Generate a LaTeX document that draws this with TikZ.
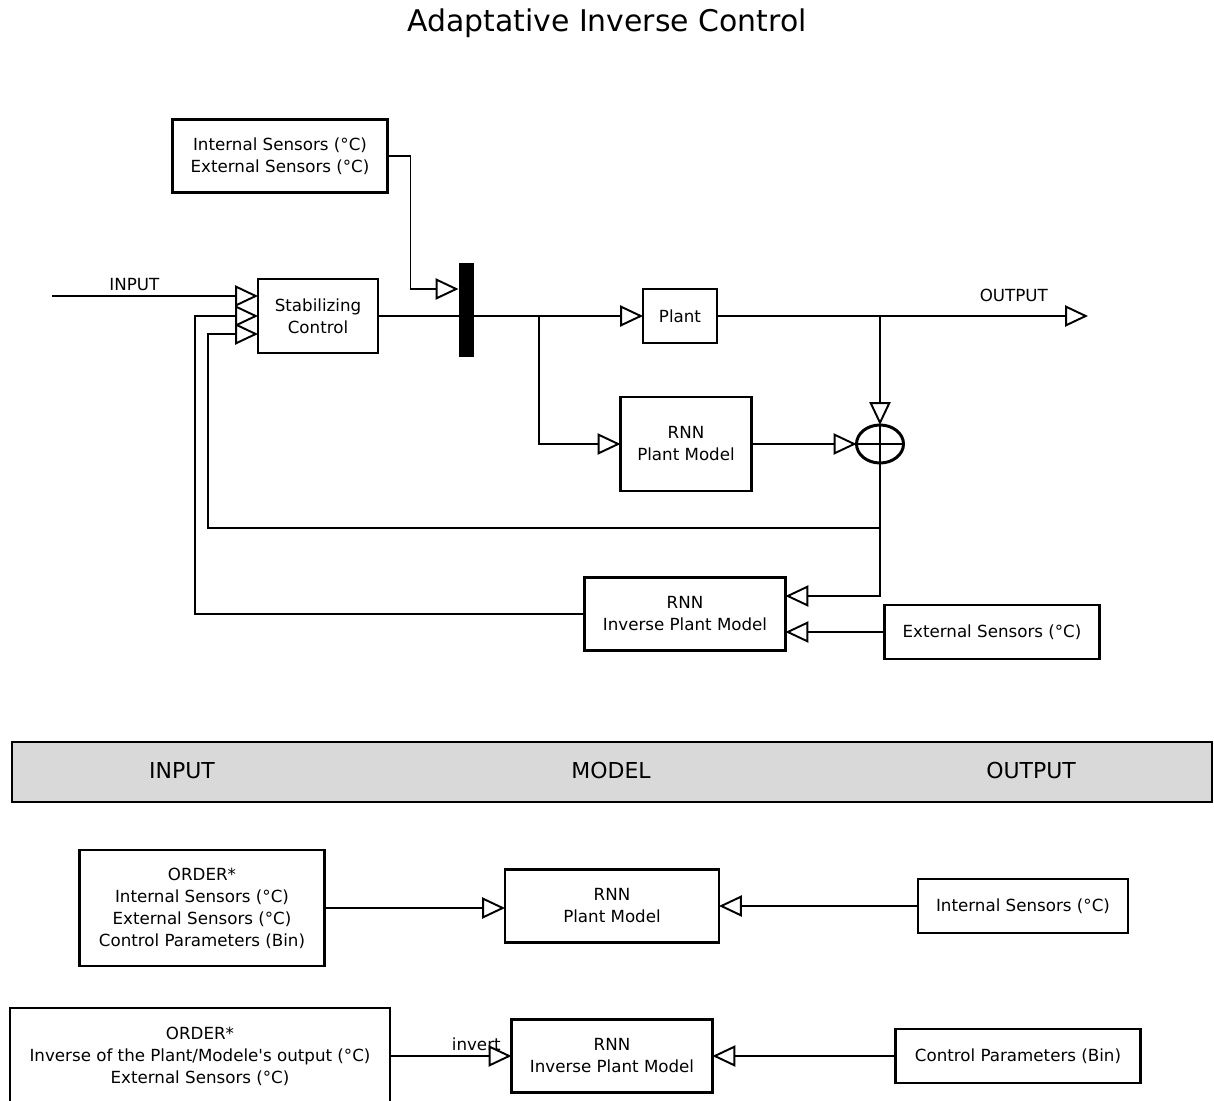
\documentclass[tikz,border=0pt]{standalone}
\usepackage{fontspec}
\setmainfont{DejaVu Sans}
\usetikzlibrary{arrows.meta, calc, shapes.geometric}
\tikzset{
    x=0.02cm, y=-0.02cm, % one unit per pixel, y axis pointing down
    every node/.style={font=\fontsize{9.5}{12.5}\selectfont, align=center},
    block/.style={draw, line width=1.6pt, fill=white, inner sep=2pt, outer sep=0pt}, % all boxes
    sumnode/.style={draw, ellipse, line width=1.7pt, minimum width=0.94cm, minimum height=0.76cm, inner sep=0pt, outer sep=0pt},
    mixbar/.style={fill=black, minimum width=0.3cm, minimum height=1.88cm, inner sep=0pt, outer sep=0pt},
    header/.style={draw, line width=1.6pt, fill=black!15},
}
\tikzstyle{conn} = [line width=1.1pt]
\tikzstyle{arrow} = [line width=1.1pt, -{Triangle[open, length=13pt, width=12pt]}]

\begin{document}
\begin{tikzpicture}
    \useasboundingbox (0,0) rectangle (1214,1101);

    \node[font=\fontsize{17}{20}\selectfont] (title) at (607,23) {Adaptative Inverse Control};

    % control loop
    \node[block, minimum width=4.3cm, minimum height=1.46cm] (sens) at (280,156) {Internal Sensors (°C)\\External Sensors (°C)};
    \node[block, minimum width=2.4cm, minimum height=1.48cm] (stab) at (318,316) {Stabilizing\\Control};
    \node[mixbar] (mix) at (466,310) {};
    \node[block, minimum width=1.48cm, minimum height=1.08cm] (plant) at (680,316) {Plant};
    \node[block, minimum width=2.62cm, minimum height=1.88cm] (rnn) at (686,444) {RNN\\Plant Model};
    \node[sumnode] (sum) at (880,444) {};
    \draw[line width=1.6pt] (sum.north) -- (sum.south) (sum.west) -- (sum.east);
    \node[block, minimum width=4.02cm, minimum height=1.46cm] (inv) at (685,614) {RNN\\Inverse Plant Model};
    \node[block, minimum width=4.3cm, minimum height=1.08cm] (ext) at (992,632) {External Sensors (°C)};

    \coordinate (in) at (52,296);
    \coordinate (out) at (1088,316);
    \coordinate (fb1) at (195,316);
    \coordinate (fb2) at (208,334);

    \draw[arrow] (in) -- (in -| stab.west) node[pos=0.4, above=-1pt] (inlabel) {INPUT};
    \draw[arrow] (sens.east) -- ++(23,0) |- ($(mix.west)+(0,-21)$);
    \draw[conn] (stab.east) -- (stab.east -| mix.west);
    \draw[arrow] (stab.east -| mix.east) -- (plant.west);
    \draw[arrow] (539,316) |- (rnn.west);
    \draw[arrow] (plant.east) -- (out) node[pos=0.8, above=4pt] (outlabel) {OUTPUT};
    \draw[arrow] (880,316) -- (sum.north);
    \draw[arrow] (rnn.east) -- (sum.west);
    \draw[arrow] (sum.south) |- ($(inv.east)+(0,-18)$);
    \draw[arrow] (sum.south |- 0,528) -| (fb2) -- (fb2 -| stab.west);
    \draw[arrow] (inv.west) -| (fb1) -- (fb1 -| stab.west);
    \draw[arrow] (ext.west) -- (ext.west -| inv.east);

    % training table
    \draw[header] (12,742) rectangle (1212,802);
    \node[font=\fontsize{12.5}{15}\selectfont] (hin) at (182,771) {INPUT};
    \node[font=\fontsize{12.5}{15}\selectfont] (hmodel) at (611,771) {MODEL};
    \node[font=\fontsize{12.5}{15}\selectfont] (hout) at (1031,771) {OUTPUT};

    \node[block, minimum width=4.9cm, minimum height=2.32cm] (ord1) at (202,908) {ORDER*\\Internal Sensors (°C)\\External Sensors (°C)\\Control Parameters (Bin)};
    \node[block, minimum width=4.28cm, minimum height=1.46cm] (model1) at (612,906) {RNN\\Plant Model};
    \node[block, minimum width=4.2cm, minimum height=1.08cm] (target1) at (1023,906) {Internal Sensors (°C)};
    \draw[arrow] (ord1.east) -- (ord1.east -| model1.west);
    \draw[arrow] (target1.west) -- (model1.east);

    \node[block, minimum width=7.6cm, minimum height=1.92cm] (ord2) at (200,1056) {ORDER*\\Inverse of the Plant/Modele\textquotesingle s output (°C)\\External Sensors (°C)};
    \node[block, minimum width=4.02cm, minimum height=1.46cm] (model2) at (612,1056) {RNN\\Inverse Plant Model};
    \node[block, minimum width=4.9cm, minimum height=1.08cm] (target2) at (1018,1056) {Control Parameters (Bin)};
    \draw[arrow] (ord2.east) -- (model2.west) node[pos=0.71, above=-1pt] (invlabel) {invert};
    \draw[arrow] (target2.west) -- (model2.east);
\end{tikzpicture}
\end{document}
